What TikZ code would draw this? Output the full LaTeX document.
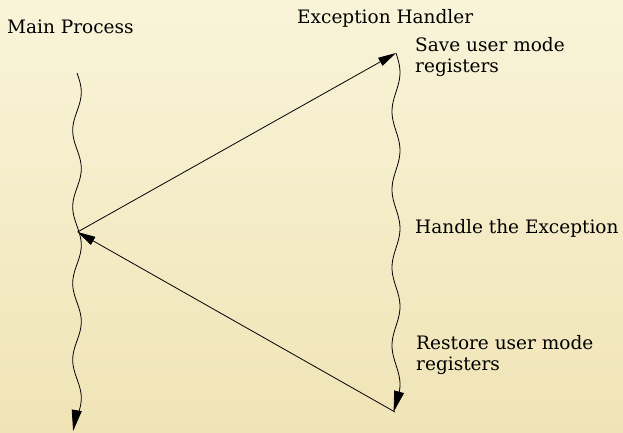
\documentclass[tikz,border=0pt]{standalone}
\usepackage{fontspec}
\setmainfont{DejaVu Serif}
\usetikzlibrary{arrows.meta}
\tikzset{
  lbl/.style={anchor=base west, inner sep=0pt, font=\fontsize{18.5}{20.5}\selectfont, align=left},
  flow/.style={draw=black, line width=0.8pt, -{Triangle[length=18pt,width=9pt]}},
  wave/.style={draw=black, line width=0.8pt, -{Triangle[length=21pt,width=10pt]}}
}
\begin{document}
\begin{tikzpicture}[x=1pt,y=-1pt]
\shade[top color={rgb,255:red,249;green,244;blue,217}, bottom color={rgb,255:red,240;green,228;blue,182}] (0,0) rectangle (623,432);
\useasboundingbox (0,0) rectangle (623,432);
% labels
\node[lbl] (mainp) at (7,33) {Main Process};
\node[lbl] (exch) at (297,23) {Exception Handler};
\node[lbl] (save) at (415,72) {Save user mode\\registers};
\node[lbl] (handle) at (415,233) {Handle the Exception};
\node[lbl] (restore) at (416,370) {Restore user mode\\registers};
% key points
\coordinate (mp) at (77.5,232);
\coordinate (ehtop) at (396,53);
\coordinate (ehbot) at (395,412);
% main process wavy line
\draw[wave] plot[domain=73:431, samples=120, smooth] ({77+4.3*sin(4.7059*(\x-73))}, {\x});
% exception handler wavy line
\draw[wave] plot[domain=53:412, samples=120, smooth] ({396+4*sin(4.6154*(\x-53))}, {\x});
% transfers
\draw[flow] (mp) -- (ehtop);
\draw[flow] (ehbot) -- (mp);
\end{tikzpicture}
\end{document}
